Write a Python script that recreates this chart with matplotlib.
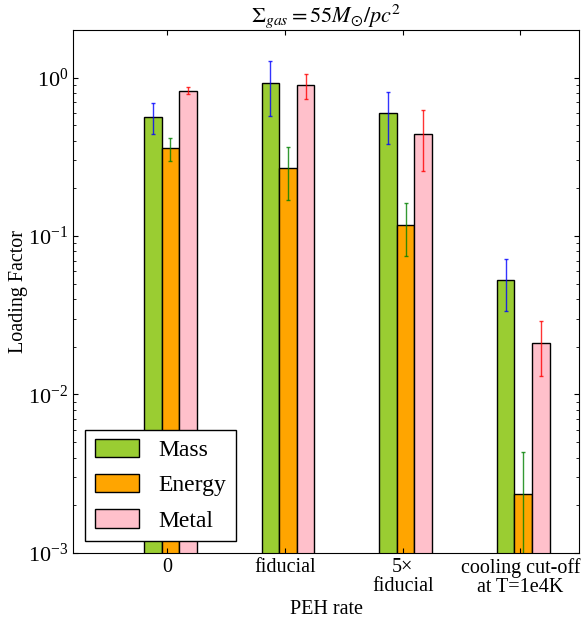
import numpy as np
import matplotlib
matplotlib.use('Agg')
import matplotlib.pyplot as plt

plt.rcParams['font.family'] = ['Liberation Serif', 'DejaVu Serif']
plt.rcParams['mathtext.fontset'] = 'stix'

# PEH rate runs
runs = ['0', 'fiducial', '5\u00d7\nfiducial', 'cooling cut-off\nat T=1e4K']

# loading factors and (symmetric) errors
mass = [0.565, 0.92, 0.595, 0.0527]
mass_err = [0.127, 0.352, 0.215, 0.0193]
energy = [0.357, 0.267, 0.118, 0.00237]
energy_err = [0.058, 0.098, 0.043, 0.00195]
metal = [0.828, 0.894, 0.441, 0.0211]
metal_err = [0.044, 0.157, 0.185, 0.008]

x = np.arange(len(runs))
w = 0.15

fig = plt.figure(figsize=(5.82, 6.22), dpi=100)
ax = fig.add_axes([0.126, 0.111, 0.869, 0.841])

ax.bar(x - 0.2, mass, w, align='edge', color='yellowgreen', edgecolor='k', lw=1, label='Mass')
ax.bar(x - 0.05, energy, w, align='edge', color='orange', edgecolor='k', lw=1, label='Energy')
ax.bar(x + 0.1, metal, w, align='edge', color='pink', edgecolor='k', lw=1, label='Metal')

ax.errorbar(x - 0.2 + w / 2, mass, yerr=mass_err, fmt='none', ecolor='b', elinewidth=1, capsize=1.5, alpha=0.8)
ax.errorbar(x - 0.05 + w / 2, energy, yerr=energy_err, fmt='none', ecolor='g', elinewidth=1, capsize=1.5, alpha=0.8)
ax.errorbar(x + 0.1 + w / 2, metal, yerr=metal_err, fmt='none', ecolor='r', elinewidth=1, capsize=1.5, alpha=0.8)

ax.set_yscale('log')
ax.set_ylim(1e-3, 2)
ax.set_xlim(-0.8, 3.5)
ax.set_xticks(x)
ax.set_xticklabels(runs, fontsize=14.5, linespacing=1.0)
ax.tick_params(axis='y', labelsize=16)
ax.tick_params(which='both', direction='in', top=True, right=True)
ax.tick_params(which='major', length=3.5)
ax.tick_params(which='minor', length=2)

ax.set_xlabel('PEH rate', fontsize=14.5, labelpad=2)
ax.set_ylabel('Loading Factor', fontsize=14.5, labelpad=0)
ax.set_title(r'$\Sigma_{gas} = 55M_{\odot}/pc^2$', fontsize=16, pad=1)

leg = ax.legend(loc='lower left', fontsize=17, fancybox=False, framealpha=1,
                handlelength=1.9, handleheight=0.8, labelspacing=0.55, borderpad=0.4,
                bbox_to_anchor=(0.0, 0.0))
leg.get_frame().set_edgecolor('k')

plt.savefig('out.png', dpi=100)
